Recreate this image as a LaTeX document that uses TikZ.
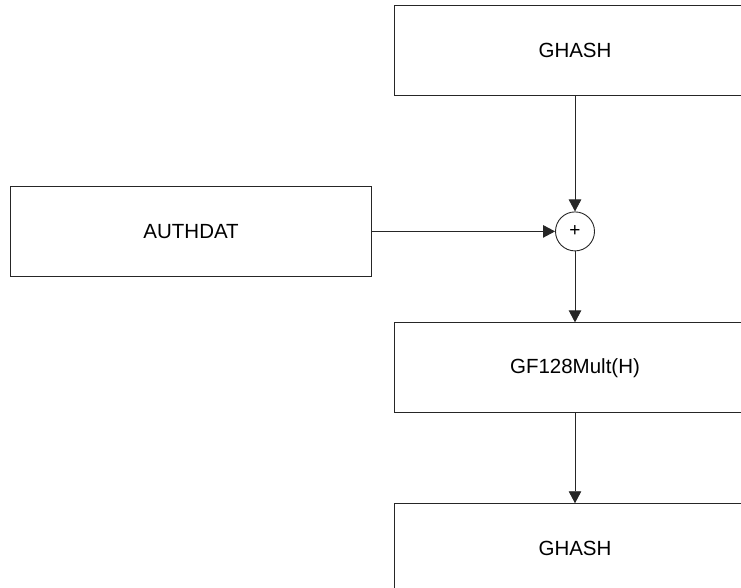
\documentclass[tikz,border=0pt]{standalone}
\usepackage{fontspec}
\setmainfont{Liberation Sans}
\usetikzlibrary{positioning,arrows.meta}
\definecolor{linegray}{HTML}{262626}

\begin{document}
\begin{tikzpicture}[
    x=1pt, y=-1pt,
    >={Triangle[length=12pt,width=12.5pt]},
    every node/.style={font=\fontsize{20.5}{24}\selectfont},
    block/.style={
        draw=linegray,
        line width=0.9pt,
        rectangle,
        minimum width=361pt,
        minimum height=90pt,
        inner sep=0pt
    },
    xorsum/.style={
        draw=linegray,
        line width=0.9pt,
        circle,
        minimum size=39pt,
        inner sep=0pt,
        font=\fontsize{19}{22}\selectfont
    },
    flow/.style={->, line width=0.9pt, draw=linegray, fill=black}
]
\clip (0,0) rectangle (741,587);
\useasboundingbox (0,0) rectangle (741,587);

\node[block] (ghashin) at (575,50) {GHASH};
\node[xorsum, below=116pt of ghashin] (sum) {+};
\node[block, left=183pt of sum] (authdat) {AUTHDAT};
\node[block, below=71pt of sum] (gfmult) {GF128Mult(H)};
\node[block, below=90pt of gfmult] (ghashout) {GHASH};

\draw[flow] (ghashin) -- (sum);
\draw[flow] (authdat) -- (sum);
\draw[flow] (sum) -- (gfmult);
\draw[flow] (gfmult) -- (ghashout);

\end{tikzpicture}
\end{document}
